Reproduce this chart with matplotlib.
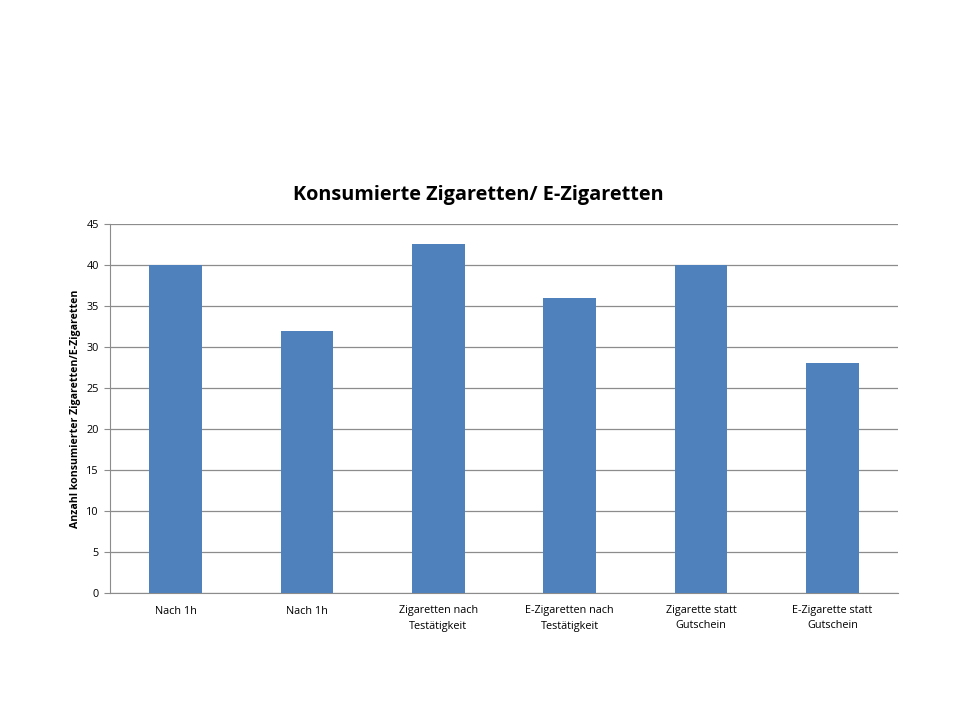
import matplotlib
matplotlib.use("Agg")
import matplotlib.pyplot as plt
import numpy as np

plt.rcParams['font.family'] = ['Open Sans', 'DejaVu Sans']

categories = ["Nach 1h", "Nach 1h", "Zigaretten nach\nTestätigkeit",
              "E-Zigaretten nach\nTestätigkeit", "Zigarette statt\nGutschein",
              "E-Zigarette statt\nGutschein"]
values = [40, 32, 42.5, 36, 40, 28]

fig = plt.figure(figsize=(9.6, 7.2), dpi=100)
ax = fig.add_axes([110 / 960, 1 - 593 / 720, 788 / 960, 369 / 720])

x = np.arange(len(categories))
ax.bar(x, values, width=0.4, color="#4F81BD", zorder=3)

ax.set_xlim(-0.5, len(categories) - 0.5)
ax.set_ylim(0, 45)
ax.set_yticks(np.arange(0, 46, 5))
ax.yaxis.grid(True, color="#8C8C8C", linewidth=0.9, zorder=0)
ax.set_xticks(x)
ax.set_xticklabels(categories, fontsize=7.8, linespacing=1.5)
ax.tick_params(axis="x", length=0, pad=9)
ax.tick_params(axis="y", labelsize=7.8, length=4, color="#8C8C8C", pad=4)

for side in ("top", "right"):
    ax.spines[side].set_visible(False)
for side in ("left", "bottom"):
    ax.spines[side].set_color("#8C8C8C")

ax.set_ylabel("Anzahl konsumierter Zigaretten/E-Zigaretten", fontsize=7.6,
              fontweight="bold", labelpad=4)
fig.text(478 / 960, 1 - 195 / 720, "Konsumierte Zigaretten/ E-Zigaretten",
         ha="center", va="center", fontsize=14.3, fontweight="bold")

fig.savefig("out.png", dpi=100)
